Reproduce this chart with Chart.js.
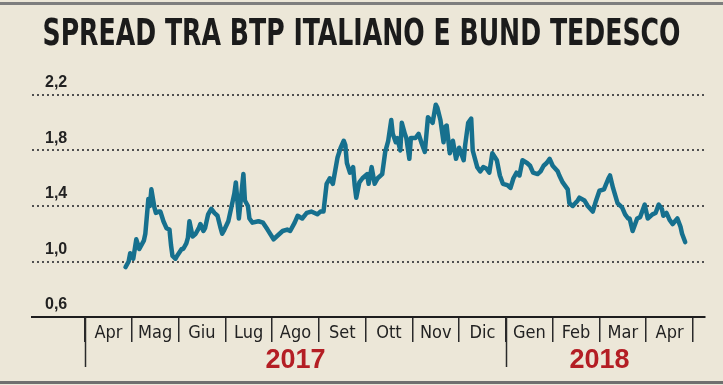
<!DOCTYPE html>
<html>
<head>
<meta charset="utf-8">
<script src="https://cdn.jsdelivr.net/npm/chart.js@4.4.1/dist/chart.umd.min.js"></script>
<style>
  html, body { margin: 0; padding: 0; background: #ece7d8; }
  canvas { display: block; }
</style>
</head>
<body>
<canvas id="c" width="723" height="385"></canvas>
<script>
// ---- DATA ----
const chartTitle = 'SPREAD TRA BTP ITALIANO E BUND TEDESCO';
const monthLabels = ['Apr','Mag','Giu','Lug','Ago','Set','Ott','Nov','Dic','Gen','Feb','Mar','Apr'];
const monthYears  = [2017,2017,2017,2017,2017,2017,2017,2017,2017,2018,2018,2018,2018];
const yTicks = [0.6, 1.0, 1.4, 1.8, 2.2];

const dates = [
 '2017-04-27','2017-04-29','2017-04-30','2017-05-02','2017-05-04','2017-05-06','2017-05-07','2017-05-09','2017-05-10','2017-05-12',
 '2017-05-13','2017-05-14','2017-05-16','2017-05-17','2017-05-19','2017-05-20','2017-05-22','2017-05-24','2017-05-26','2017-05-27',
 '2017-05-28','2017-05-30','2017-05-31','2017-06-03','2017-06-04','2017-06-06','2017-06-07','2017-06-08','2017-06-10','2017-06-12',
 '2017-06-14','2017-06-15','2017-06-17','2017-06-18','2017-06-20','2017-06-22','2017-06-24','2017-06-26','2017-06-28','2017-06-29',
 '2017-06-30','2017-07-03','2017-07-05','2017-07-07','2017-07-08','2017-07-10','2017-07-13','2017-07-14','2017-07-16','2017-07-17',
 '2017-07-19','2017-07-23','2017-07-26','2017-07-29','2017-08-02','2017-08-04','2017-08-08','2017-08-11','2017-08-13','2017-08-16',
 '2017-08-18','2017-08-21','2017-08-24','2017-08-27','2017-08-31','2017-09-02','2017-09-04','2017-09-06','2017-09-08','2017-09-10',
 '2017-09-13','2017-09-15','2017-09-17','2017-09-18','2017-09-19','2017-09-21','2017-09-23','2017-09-24','2017-09-25','2017-09-27',
 '2017-09-29','2017-10-02','2017-10-03','2017-10-05','2017-10-07','2017-10-09','2017-10-12','2017-10-14','2017-10-16','2017-10-18',
 '2017-10-19','2017-10-21','2017-10-22','2017-10-24','2017-10-25','2017-10-27','2017-10-28','2017-10-30','2017-10-31','2017-11-03',
 '2017-11-05','2017-11-07','2017-11-09','2017-11-11','2017-11-14','2017-11-16','2017-11-17','2017-11-19','2017-11-21','2017-11-22',
 '2017-11-23','2017-11-25','2017-11-27','2017-11-29','2017-12-01','2017-12-04','2017-12-05','2017-12-07','2017-12-09','2017-12-10',
 '2017-12-13','2017-12-15','2017-12-17','2017-12-19','2017-12-21','2017-12-23','2017-12-26','2017-12-28','2017-12-30','2018-01-02',
 '2018-01-04','2018-01-06','2018-01-08','2018-01-10','2018-01-12','2018-01-15','2018-01-17','2018-01-19','2018-01-22','2018-01-24',
 '2018-01-26','2018-01-28','2018-01-30','2018-02-01','2018-02-04','2018-02-05','2018-02-07','2018-02-10','2018-02-11','2018-02-13',
 '2018-02-16','2018-02-17','2018-02-20','2018-02-22','2018-02-25','2018-02-27','2018-03-01','2018-03-04','2018-03-07','2018-03-08',
 '2018-03-10','2018-03-13','2018-03-16','2018-03-18','2018-03-20','2018-03-21','2018-03-23','2018-03-26','2018-03-28','2018-03-31',
 '2018-04-02','2018-04-05','2018-04-07','2018-04-09','2018-04-11','2018-04-12','2018-04-14','2018-04-16','2018-04-18','2018-04-21',
 '2018-04-23','2018-04-24','2018-04-26'
];
const spread = [
 0.96,1.00,1.06,1.02,1.16,1.09,1.11,1.15,1.20,1.45,
 1.40,1.52,1.39,1.35,1.36,1.36,1.29,1.24,1.23,1.12,
 1.04,1.02,1.04,1.09,1.09,1.13,1.17,1.29,1.18,1.20,
 1.24,1.27,1.22,1.24,1.34,1.38,1.35,1.33,1.24,1.20,
 1.22,1.29,1.39,1.49,1.57,1.31,1.63,1.44,1.40,1.31,
 1.28,1.29,1.28,1.23,1.16,1.18,1.22,1.23,1.22,1.28,
 1.33,1.31,1.35,1.36,1.34,1.36,1.36,1.56,1.60,1.56,
 1.75,1.82,1.87,1.84,1.71,1.64,1.68,1.55,1.46,1.57,
 1.60,1.63,1.56,1.68,1.56,1.60,1.63,1.79,1.87,2.02,
 1.92,1.86,1.89,1.80,2.00,1.92,1.89,1.74,1.89,1.89,
 1.92,1.85,1.79,2.04,2.00,2.13,2.11,2.02,1.86,1.97,
 1.98,1.78,1.87,1.74,1.82,1.73,1.84,2.00,2.03,1.80,
 1.68,1.65,1.68,1.67,1.64,1.78,1.73,1.62,1.56,1.55,
 1.53,1.60,1.64,1.62,1.73,1.71,1.69,1.64,1.63,1.65,
 1.69,1.71,1.74,1.69,1.65,1.62,1.57,1.52,1.42,1.40,
 1.44,1.46,1.44,1.40,1.36,1.44,1.51,1.52,1.60,1.62,
 1.53,1.42,1.39,1.34,1.31,1.31,1.22,1.31,1.32,1.41,
 1.31,1.34,1.35,1.41,1.38,1.33,1.35,1.30,1.27,1.31,
 1.25,1.20,1.14
];

// ---- helpers ----
const START_YEAR = 2017, START_MONTH = 4;
function monthPos(s) {
  const [y, m, d] = s.split('-').map(Number);
  const dim = new Date(y, m, 0).getDate();
  return (y - START_YEAR) * 12 + (m - START_MONTH) + (d - 1) / dim;
}
const points = dates.map((d, i) => ({ x: monthPos(d), y: spread[i] }));

const NARROW = '"Liberation Sans Narrow", "DejaVu Sans Condensed", "Liberation Sans", sans-serif';
const SANS = '"Liberation Sans", Arial, sans-serif';

const decorPlugin = {
  id: 'decor',
  beforeDraw(chart) {
    const ctx = chart.ctx, W = chart.width, H = chart.height;
    ctx.save();
    ctx.fillStyle = '#ece7d8';
    ctx.fillRect(0, 0, W, H);
    ctx.fillStyle = '#7e7e7e';
    ctx.fillRect(0, 2, W, 3);
    ctx.fillStyle = '#6f6f6f';
    ctx.fillRect(0, 381, W, 3);
    // title
    ctx.font = 'bold 37px ' + NARROW;
    ctx.fillStyle = '#1b1b1b';
    ctx.textBaseline = 'alphabetic';
    ctx.textAlign = 'left';
    const w = ctx.measureText(chartTitle).width;
    const target = 638;
    ctx.translate(361.5 - target / 2, 45);
    ctx.scale(target / w, 1);
    ctx.fillText(chartTitle, 0, 0);
    ctx.restore();
  },
  afterDraw(chart) {
    const ctx = chart.ctx, xs = chart.scales.x;
    const top = chart.chartArea.bottom;
    ctx.save();
    const groups = [];
    monthYears.forEach((y, i) => {
      const g = groups[groups.length - 1];
      if (g && g.year === y) g.end = i + 1; else groups.push({ year: y, start: i, end: i + 1 });
    });
    ctx.strokeStyle = '#2a2a2a';
    ctx.lineWidth = 1.5;
    groups.forEach(g => {
      const px = Math.round(xs.getPixelForValue(g.start)) + 0.5;
      ctx.beginPath();
      ctx.moveTo(px, top);
      ctx.lineTo(px, top + 50);
      ctx.stroke();
    });
    ctx.font = 'bold 27px ' + SANS;
    ctx.fillStyle = '#b41e24';
    ctx.textAlign = 'center';
    ctx.textBaseline = 'alphabetic';
    groups.forEach(g => {
      const cx = (xs.getPixelForValue(g.start) + xs.getPixelForValue(g.end)) / 2;
      ctx.fillText(String(g.year), cx, top + 51);
    });
    ctx.restore();
  }
};

new Chart(document.getElementById('c'), {
  type: 'line',
  data: {
    datasets: [{
      data: points,
      borderColor: '#16708e',
      borderWidth: 4.5,
      pointRadius: 0,
      tension: 0,
      borderJoinStyle: 'round',
      borderCapStyle: 'round',
      fill: false
    }]
  },
  options: {
    responsive: false,
    animation: false,
    devicePixelRatio: 1,
    layout: { padding: { left: 32, right: 18, top: 95, bottom: 0 } },
    plugins: { legend: { display: false }, tooltip: { enabled: false }, title: { display: false } },
    scales: {
      x: {
        type: 'linear',
        min: -1.133,
        max: 13.257,
        afterBuildTicks: s => { s.ticks = monthLabels.concat(['']).map((_, i) => ({ value: i })); },
        afterFit: s => { s.height = 68; },
        grid: { drawOnChartArea: false, drawTicks: true, tickLength: 25, color: '#2a2a2a', lineWidth: 1.5 },
        border: { display: true, color: '#1e1e1e', width: 2 },
        ticks: {
          autoSkip: false, maxRotation: 0, minRotation: 0,
          labelOffset: 23.4, padding: -19,
          color: '#222', font: { family: NARROW, size: 18 },
          callback: (v, i) => monthLabels[i] !== undefined ? monthLabels[i] : ''
        }
      },
      y: {
        min: 0.6,
        max: 2.2,
        afterBuildTicks: s => { s.ticks = yTicks.map(v => ({ value: v })); },
        afterFit: s => { s.width = 0; },
        grid: {
          drawTicks: false,
          lineWidth: 2,
          color: c => (c.tick && c.tick.value < 0.65) ? 'rgba(0,0,0,0)' : '#505050'
        },
        border: { display: false, dash: [2, 3] },
        ticks: {
          mirror: true, padding: 13, labelOffset: -12,
          color: '#222', font: { family: SANS, size: 16, weight: 'bold' },
          callback: v => Number(v).toFixed(1).replace('.', ',')
        }
      }
    }
  },
  plugins: [decorPlugin]
});
</script>
</body>
</html>
